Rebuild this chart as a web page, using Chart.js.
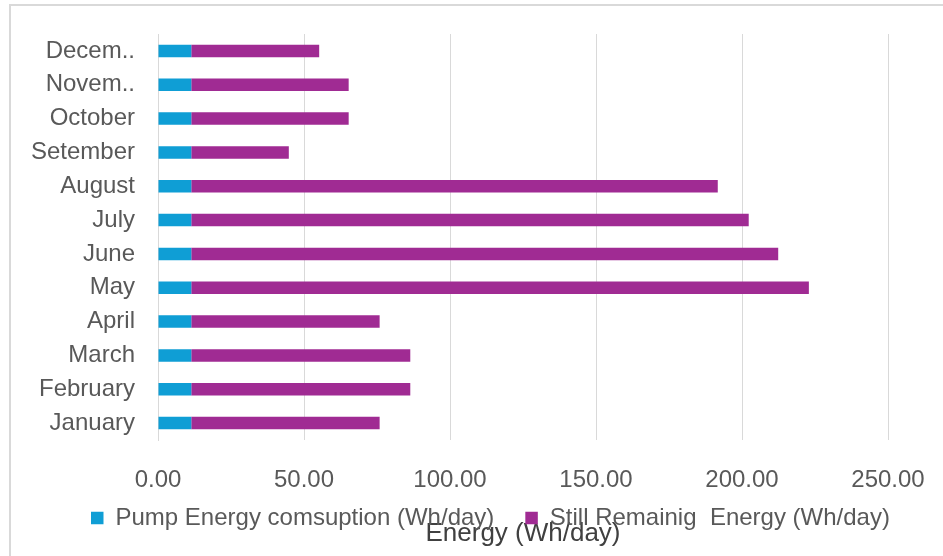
<!DOCTYPE html>
<html><head><meta charset="utf-8">
<script src="https://cdn.jsdelivr.net/npm/chart.js@4/dist/chart.umd.min.js"></script>
<style>
html,body{margin:0;padding:0;background:#fff;}
#wrap{position:relative;width:943px;height:556px;overflow:hidden;background:#fff;}
#frame{position:absolute;left:9px;top:4px;width:1000px;height:1000px;border-left:2px solid #d9d9d9;border-top:2px solid #d9d9d9;box-sizing:border-box;}
canvas{position:absolute;left:0;top:0;}
</style></head><body>
<div id="wrap"><div id="frame"></div><canvas id="c" width="943" height="556"></canvas></div>
<script>
const months = ["January","February","March","April","May","June","July","August","Setember","October","Novem..","Decem.."];
const pumpEnergy = [11.4,11.4,11.4,11.4,11.4,11.4,11.4,11.4,11.4,11.4,11.4,11.4];
const remainingEnergy = [64.5,75.0,75.0,64.5,211.5,201.0,190.9,180.3,33.4,53.9,53.9,43.8];
const seriesNames = ["Pump Energy comsuption (Wh/day)","Still Remainig  Energy (Wh/day)"];
const xAxisTitle = "Energy (Wh/day)";
const xMin = 0, xMax = 250, xStep = 50;

const FONT = "'Liberation Sans', Arial, sans-serif";
Chart.defaults.font.family = FONT;

const LEGEND_PAD = 31, LEGEND_FONT = 24;
// place the legend row (it overlaps the axis title, as in the reference)
const legendShift = {
  id: 'legendShift',
  afterLayout(chart) {
    const l = chart.legend;
    if (!l) return;
    const dx = (91 - LEGEND_PAD) - l.left;
    const dy = (518 - LEGEND_PAD - LEGEND_FONT / 2) - l.top;
    l.left += dx; l.right += dx; l.top += dy; l.bottom += dy;
  }
};

new Chart(document.getElementById('c'), {
  type: 'bar',
  data: {
    labels: months,
    datasets: [
      {label: seriesNames[0], data: pumpEnergy, backgroundColor: '#0F9ED5', borderWidth: 0, categoryPercentage: 1, barPercentage: 0.368},
      {label: seriesNames[1], data: remainingEnergy, backgroundColor: '#A02B93', borderWidth: 0, categoryPercentage: 1, barPercentage: 0.368}
    ]
  },
  plugins: [legendShift],
  options: {
    indexAxis: 'y',
    responsive: false,
    animation: false,
    layout: {padding: {left: 0, right: 0, top: 34, bottom: 0}},
    plugins: {
      legend: {
        position: 'bottom', align: 'start', maxHeight: 59,
        labels: {boxWidth: 12.5, boxHeight: 12.5, padding: LEGEND_PAD, color: '#595959', font: {size: LEGEND_FONT, family: FONT}}
      },
      tooltip: {enabled: false}
    },
    scales: {
      x: {
        stacked: true, min: xMin, max: xMax,
        ticks: {stepSize: xStep, callback: v => Number(v).toFixed(2), padding: 25.6, color: '#595959', font: {size: 24, family: FONT}, maxRotation: 0},
        grid: {color: '#d9d9d9', drawTicks: false},
        border: {display: false},
        title: {display: true, text: xAxisTitle, color: '#404040', font: {size: 26, family: FONT}, padding: {top: -2.1, bottom: -52.1}},
        afterFit: s => { s.paddingRight = 55; }
      },
      y: {
        stacked: true, reverse: true,
        ticks: {padding: 23, color: '#595959', font: {size: 24, family: FONT}, autoSkip: false},
        grid: {display: false, drawTicks: false},
        border: {display: true, color: '#d9d9d9', width: 1},
        afterFit: s => { s.width = 158; s.paddingTop = 0; s.paddingBottom = 0; }
      }
    }
  }
});
</script>
</body></html>
